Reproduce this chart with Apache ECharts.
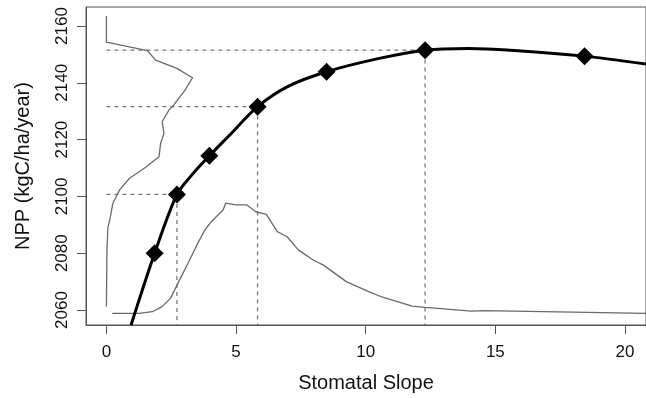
<!DOCTYPE html>
<html>
<head>
<meta charset="utf-8">
<script src="https://cdn.jsdelivr.net/npm/echarts@6/dist/echarts.min.js"></script>
<style>
  html, body { margin: 0; padding: 0; background: #fff; }
  #chart { width: 646px; height: 398px; }
</style>
</head>
<body>
<div id="chart"></div>
<script>
// main NPP response curve
const curveX = [0.95, 1.86, 2.72, 3.29, 3.97, 4.69, 5.83, 6.97, 8.49, 10.52, 12.29, 13.94, 15.59, 18.44, 20.81];
const curveY = [2054.7, 2080.0, 2100.7, 2107.5, 2114.3, 2121.0, 2131.6, 2138.6, 2143.9, 2148.6, 2151.5, 2152.1, 2151.5, 2149.4, 2146.6];

// diamond markers
const markX = [1.86, 2.72, 3.97, 5.83, 8.49, 12.29, 18.44];
const markY = [2080.0, 2100.7, 2114.3, 2131.6, 2143.9, 2151.5, 2149.4];

// markers that get dashed guide lines
const guideIdx = [1, 3, 5];

// density of NPP (drawn sideways along the y axis)
const npdX = [0, 0, 1.58, 1.90, 2.72, 3.32, 3.04, 2.60, 2.41, 2.15, 2.22, 2.09, 2.03, 1.46, 0.89, 0.51, 0.25, 0.13, 0.06, 0.02, 0];
const npdY = [2163.5, 2154.3, 2151.3, 2148.0, 2145.1, 2141.8, 2137.5, 2132.2, 2130.4, 2126.3, 2122.2, 2118.7, 2114.0, 2109.9, 2106.4, 2102.3, 2097.6, 2091.7, 2089.3, 2081.1, 2061.2];

// density of stomatal slope (drawn along the x axis)
const sldX = [0.23, 1.27, 1.77, 2.15, 2.47, 2.79, 3.17, 3.55, 3.80, 4.05, 4.18, 4.50, 4.60, 5.00, 5.42, 5.76, 6.17, 6.59, 6.97, 7.41, 7.98, 8.37, 9.25, 10.14, 10.65, 11.79, 12.29, 14.07, 14.57, 20.81];
const sldY = [2058.8, 2058.8, 2059.4, 2061.2, 2064.1, 2070.0, 2076.9, 2084.0, 2088.2, 2091.1, 2092.3, 2095.2, 2097.6, 2097.0, 2097.0, 2094.6, 2093.7, 2087.6, 2085.8, 2081.1, 2077.6, 2075.8, 2070.0, 2066.4, 2064.5, 2061.4, 2060.9, 2059.6, 2059.8, 2058.8];

const xTicks = [0, 5, 10, 15, 20];
const yTicks = [2060, 2080, 2100, 2120, 2140, 2160];

const xMin = -0.787, xMax = 20.81;
const yMin = 2054.72, yMax = 2166.7;

const zip = (a, b) => a.map((v, i) => [v, b[i]]);

const guideSeries = guideIdx.map((i) => ({
  type: 'line',
  data: [[0, markY[i]], [markX[i], markY[i]], [markX[i], yMin]],
  symbol: 'none',
  silent: true,
  lineStyle: { color: '#777', width: 1.3, type: [4, 4] },
  z: 1,
}));

const axisFont = { fontFamily: 'Liberation Sans, Arial, sans-serif', color: '#111' };

const chart = echarts.init(document.getElementById('chart'));
chart.setOption({
  animation: false,
  grid: {
    left: 86, top: 7, right: -8, bottom: 73,
    show: true, borderColor: '#555', borderWidth: 1,
  },
  xAxis: {
    type: 'value',
    min: xMin, max: xMax,
    name: 'Stomatal Slope',
    nameLocation: 'middle',
    nameGap: 48,
    nameTextStyle: { ...axisFont, fontSize: 20 },
    axisLine: { show: true, onZero: false, lineStyle: { color: '#555', width: 1 } },
    axisTick: { show: true, length: 9, customValues: xTicks, lineStyle: { color: '#555' } },
    axisLabel: { ...axisFont, fontSize: 17, margin: 19, customValues: xTicks, formatter: (v) => String(v) },
    splitLine: { show: false },
  },
  yAxis: {
    type: 'value',
    min: yMin, max: yMax,
    name: 'NPP (kgC/ha/year)',
    nameLocation: 'middle',
    nameGap: 53,
    nameTextStyle: { ...axisFont, fontSize: 20 },
    axisLine: { show: true, onZero: false, lineStyle: { color: '#555', width: 1 } },
    axisTick: { show: true, length: 9, customValues: yTicks, lineStyle: { color: '#555' } },
    axisLabel: { ...axisFont, fontSize: 17, margin: 15, rotate: 90, customValues: yTicks, formatter: (v) => String(v) },
    splitLine: { show: false },
  },
  series: [
    ...guideSeries,
    {
      type: 'line',
      data: zip(npdX, npdY),
      symbol: 'none',
      lineStyle: { color: '#6a6a6a', width: 1.3 },
      z: 2,
    },
    {
      type: 'line',
      data: zip(sldX, sldY),
      symbol: 'none',
      lineStyle: { color: '#6a6a6a', width: 1.3 },
      z: 2,
    },
    {
      type: 'line',
      data: zip(curveX, curveY),
      symbol: 'none',
      smooth: 0.3,
      lineStyle: { color: '#000', width: 3 },
      z: 3,
    },
    {
      type: 'scatter',
      data: zip(markX, markY),
      symbol: 'diamond',
      symbolSize: [18, 18],
      itemStyle: { color: '#000', opacity: 1 },
      z: 4,
    },
  ],
});
</script>
</body>
</html>
